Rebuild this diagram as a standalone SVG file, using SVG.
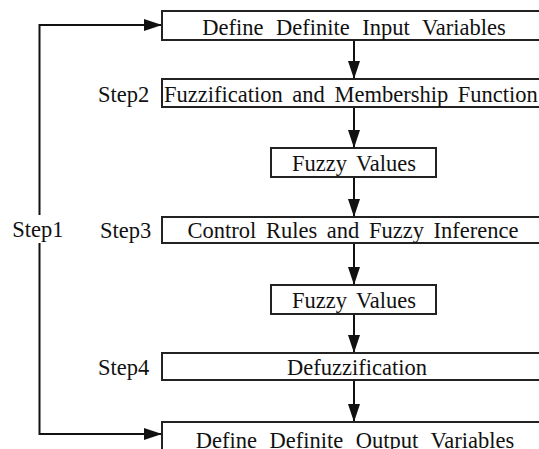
<svg xmlns="http://www.w3.org/2000/svg" width="539" height="449" viewBox="0 0 539 449">
<defs>
<marker id="ah" markerUnits="userSpaceOnUse" markerWidth="18" markerHeight="12" refX="18" refY="6" orient="auto">
<path d="M0,0 L18,6 L0,12 z" fill="#111"/>
</marker>
<style>
.box{fill:#fff;stroke:#222;stroke-width:2}
.t{font-family:"Liberation Serif","Times New Roman",serif;font-size:22.5px;fill:#111;word-spacing:4px}
.c{text-anchor:middle}
.ln{fill:none;stroke:#111;stroke-width:2}
</style>
</defs>
<rect width="539" height="449" fill="#fff"/>
<g id="connectors">
<path class="ln" d="M354,40 V79" marker-end="url(#ah)"/>
<path class="ln" d="M354,107 V148" marker-end="url(#ah)"/>
<path class="ln" d="M354,177 V217" marker-end="url(#ah)"/>
<path class="ln" d="M354,243 V285" marker-end="url(#ah)"/>
<path class="ln" d="M354,314 V353" marker-end="url(#ah)"/>
<path class="ln" d="M354,380 V422" marker-end="url(#ah)"/>
<path class="ln" d="M39.5,215 V25 H162" marker-end="url(#ah)"/>
<path class="ln" d="M39.5,243 V434 H162" marker-end="url(#ah)"/>
<text class="t c" x="38" y="237">Step1</text>
</g>
<g id="n1">
<rect class="box" x="162" y="11" width="400" height="29"/>
<text class="t c" x="354" y="35" style="word-spacing:7px">Define Definite Input Variables</text>
</g>
<g id="n2">
<rect class="box" x="162" y="79" width="400" height="28"/>
<text class="t" x="164" y="102">Fuzzification and Membership Function</text>
<text class="t" x="98" y="102">Step2</text>
</g>
<g id="n3">
<rect class="box" x="271" y="148" width="165" height="29"/>
<text class="t c" x="354" y="171">Fuzzy Values</text>
</g>
<g id="n4">
<rect class="box" x="162" y="217" width="400" height="26"/>
<text class="t c" x="353" y="238">Control Rules and Fuzzy Inference</text>
<text class="t" x="100" y="238">Step3</text>
</g>
<g id="n5">
<rect class="box" x="271" y="285" width="165" height="29"/>
<text class="t c" x="354" y="308">Fuzzy Values</text>
</g>
<g id="n6">
<rect class="box" x="162" y="353" width="400" height="27"/>
<text class="t c" x="357" y="375">Defuzzification</text>
<text class="t" x="98" y="375">Step4</text>
</g>
<g id="n7">
<rect class="box" x="162" y="422" width="400" height="40"/>
<text class="t c" x="355" y="448" style="word-spacing:7px">Define Definite Output Variables</text>
</g>
</svg>
